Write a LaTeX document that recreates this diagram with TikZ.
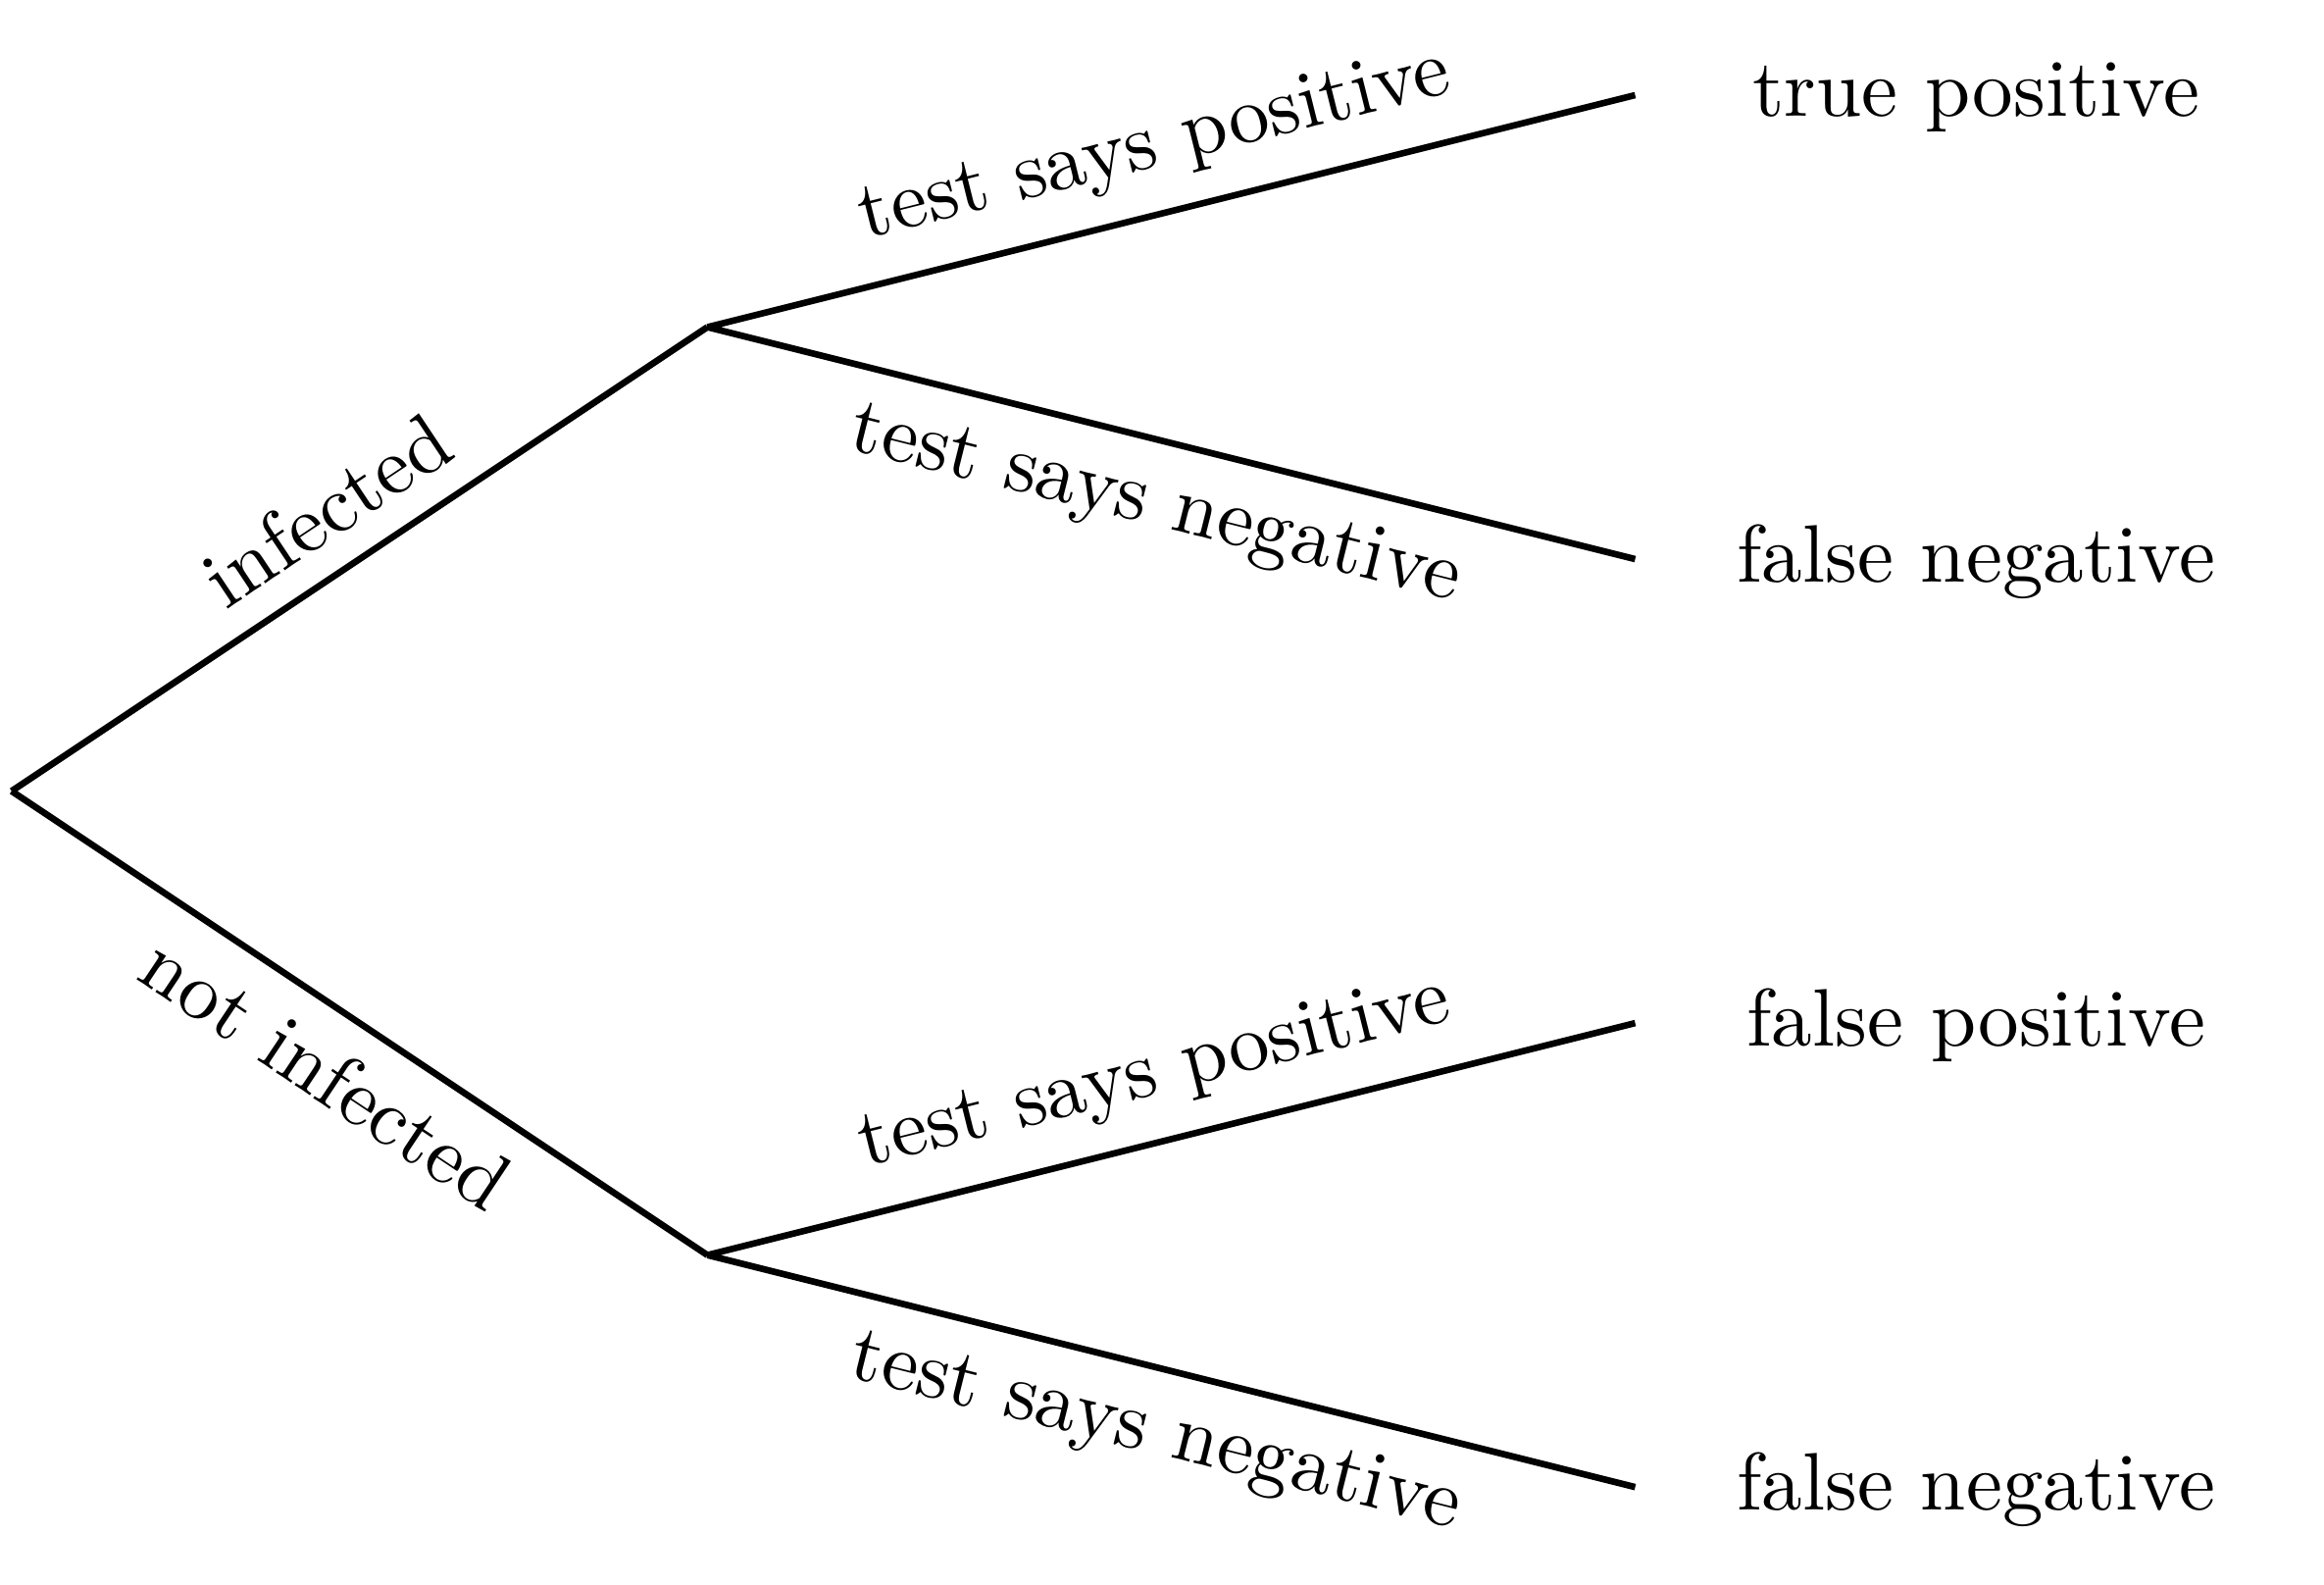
\documentclass[tikz,border=0pt]{standalone}
\usepackage{amsmath}
\usepackage{tikz}

\begin{document}
\begin{tikzpicture}
        \useasboundingbox (-0.05, -3.42) rectangle (9.97, 3.41);
        \coordinate (root) at (0, 0);
        \coordinate (inf) at (3, 2);
        \coordinate (notinf) at (3, -2);
        \coordinate (tp) at (7, 3);
        \coordinate (fna) at (7, 1);
        \coordinate (fp) at (7, -1);
        \coordinate (fnb) at (7, -3);
        \node (tplabel) at (8.47, 2.99) {true positive};
        \node (fnalabel) at (8.47, 0.99) {false negative};
        \node (fplabel) at (8.47, -1.01) {false positive};
        \node (fnblabel) at (8.47, -3.01) {false negative};
        \draw[thick]
        (root) -- node[midway, above, sloped] {infected} (inf)
        (root) -- node[midway, below, sloped] {not infected} (notinf)
        (inf) -- node[midway, above, sloped] {test says positive} (tp)
        (inf) -- node[midway, below, sloped] {test says negative} (fna)
        (notinf) -- node[midway, above, sloped] {test says positive} (fp)
        (notinf) -- node[midway, below, sloped] {test says negative} (fnb);
    \end{tikzpicture}
\end{document}
